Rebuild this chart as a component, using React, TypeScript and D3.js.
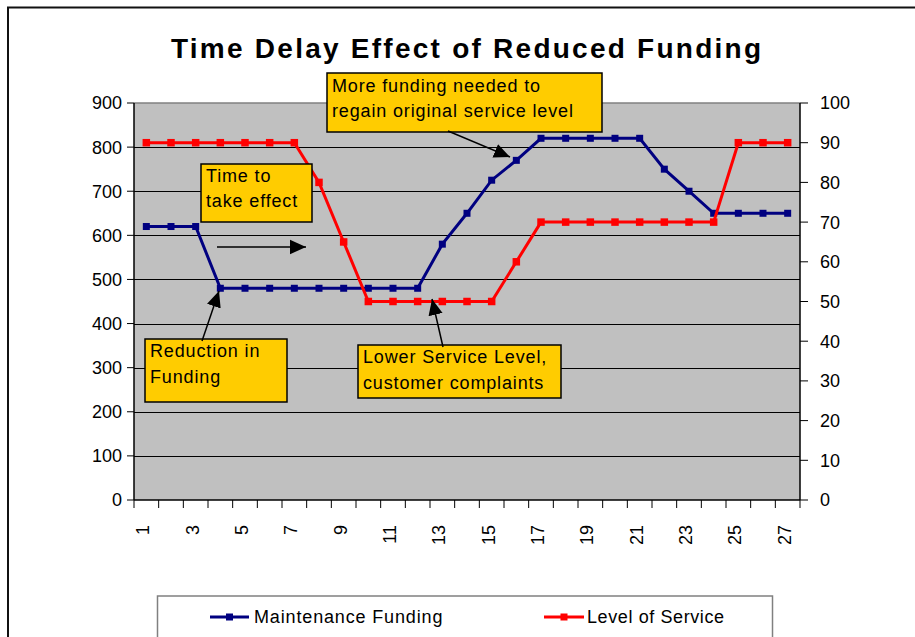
import React from 'react';
import * as d3 from 'd3';

// données
const periods = d3.range(1, 28);
const maintenanceFunding = [
  620, 620, 620, 480, 480, 480, 480, 480, 480, 480, 480, 480, 580, 650,
  725, 770, 820, 820, 820, 820, 820, 750, 700, 650, 650, 650, 650,
];
const levelOfService = [
  90, 90, 90, 90, 90, 90, 90, 80, 65, 50, 50, 50, 50, 50,
  50, 60, 70, 70, 70, 70, 70, 70, 70, 70, 90, 90, 90,
];
const leftTicks = d3.range(0, 901, 100);
const rightTicks = d3.range(0, 101, 10);

const FONT = "Arial, 'Liberation Sans', sans-serif";

const App = () => {
  const width = 915;
  const height = 637;
  const plot = { left: 134, right: 800, top: 103, bottom: 500 };

  const x = d3
    .scalePoint<number>()
    .domain(periods)
    .range([plot.left, plot.right])
    .padding(0.5);
  const step = x.step();
  const yLeft = d3.scaleLinear().domain([0, 900]).range([plot.bottom, plot.top]);
  const yRight = d3.scaleLinear().domain([0, 100]).range([plot.bottom, plot.top]);

  const lineLeft = d3
    .line<number>()
    .x((_, i) => x(periods[i])!)
    .y((d) => yLeft(d));
  const lineRight = d3
    .line<number>()
    .x((_, i) => x(periods[i])!)
    .y((d) => yRight(d));

  const boxes = [
    { x: 327, y: 73, w: 275, h: 59, lines: ['More funding needed to', 'regain original service level'], tx: 332, ty: [92, 117] },
    { x: 201, y: 164, w: 111, h: 58, lines: ['Time to', 'take effect'], tx: 206, ty: [182, 207] },
    { x: 145, y: 339, w: 142, h: 63, lines: ['Reduction in', 'Funding'], tx: 150, ty: [357, 383] },
    { x: 358, y: 345, w: 203, h: 53, lines: ['Lower Service Level,', 'customer complaints'], tx: 363, ty: [363, 389] },
  ];

  const arrows = [
    [448, 131, 510, 157],
    [217, 247, 306, 247],
    [202, 341, 219, 291],
    [443, 347, 432, 299],
  ];

  const boundaries = d3.range(0, 28).map((i) => plot.left + i * step);

  return (
    <svg
      width={width}
      height={height}
      style={{ position: 'absolute', left: 0, top: 0, display: 'block' }}
      fontFamily={FONT}
    >
      <defs>
        <marker id="head" viewBox="0 0 10 10" refX="10" refY="5" markerWidth="16" markerHeight="16" markerUnits="userSpaceOnUse" orient="auto">
          <path d="M0,0.5 L10,5 L0,9.5 Z" fill="#000" />
        </marker>
      </defs>

      <rect x={0} y={0} width={width} height={height} fill="#fff" />
      {/* cadre extérieur */}
      <rect x={8} y={7.5} width={930} height={660} fill="none" stroke="#111" strokeWidth={2} />

      {/* titre */}
      <text x={171} y={58} fontSize={28} fontWeight="bold" textLength={590} lengthAdjust="spacing">
        Time Delay Effect of Reduced Funding
      </text>

      {/* zone de tracé */}
      <rect x={plot.left} y={plot.top} width={plot.right - plot.left} height={plot.bottom - plot.top} fill="#c0c0c0" />
      <line x1={plot.left} x2={plot.right} y1={plot.top} y2={plot.top} stroke="#808080" strokeWidth={1.5} />
      {leftTicks.slice(1, -1).map((t) => (
        <line key={t} x1={plot.left} x2={plot.right} y1={Math.round(yLeft(t)) + 0.5} y2={Math.round(yLeft(t)) + 0.5} stroke="#000" strokeWidth={1} />
      ))}

      {/* axe gauche */}
      <line x1={plot.left} x2={plot.left} y1={plot.top} y2={plot.bottom} stroke="#000" strokeWidth={1.5} />
      {leftTicks.map((t) => (
        <g key={t}>
          <line x1={plot.left - 7} x2={plot.left} y1={yLeft(t)} y2={yLeft(t)} stroke="#000" />
          <text x={122} y={yLeft(t)} dy="0.36em" textAnchor="end" fontSize={18}>
            {t}
          </text>
        </g>
      ))}

      {/* axe droit */}
      <line x1={plot.right} x2={plot.right} y1={plot.top} y2={plot.bottom} stroke="#000" strokeWidth={1.5} />
      {rightTicks.map((t) => (
        <g key={t}>
          <line x1={plot.right} x2={plot.right + 8} y1={yRight(t)} y2={yRight(t)} stroke="#000" />
          <text x={820} y={yRight(t)} dy="0.36em" fontSize={18}>
            {t}
          </text>
        </g>
      ))}

      {/* axe des x */}
      <line x1={plot.left} x2={plot.right} y1={plot.bottom} y2={plot.bottom} stroke="#000" strokeWidth={1.5} />
      {boundaries.map((b, i) => (
        <line key={i} x1={b} x2={b} y1={plot.bottom} y2={plot.bottom + 8} stroke="#000" />
      ))}
      {periods
        .filter((p) => p % 2 === 1)
        .map((p) => (
          <text key={p} transform={`translate(${x(p)! + 3},525) rotate(-90)`} textAnchor="end" fontSize={18}>
            {p}
          </text>
        ))}

      {/* séries */}
      <path d={lineLeft(maintenanceFunding) || ''} fill="none" stroke="#000080" strokeWidth={3} />
      {maintenanceFunding.map((v, i) => (
        <rect key={i} x={x(periods[i])! - 3.5} y={yLeft(v) - 3.5} width={7} height={7} fill="#000080" />
      ))}
      <path d={lineRight(levelOfService) || ''} fill="none" stroke="#ff0000" strokeWidth={3} />
      {levelOfService.map((v, i) => (
        <rect key={i} x={x(periods[i])! - 3.75} y={yRight(v) - 3.75} width={7.5} height={7.5} fill="#ff0000" />
      ))}

      {/* annotations */}
      {boxes.map((b, i) => (
        <g key={i}>
          <rect x={b.x} y={b.y} width={b.w} height={b.h} fill="#ffcc00" stroke="#000" strokeWidth={1.5} />
          {b.lines.map((l, j) => (
            <text key={j} x={b.tx} y={b.ty[j]} fontSize={18} letterSpacing={0.85}>
              {l}
            </text>
          ))}
        </g>
      ))}
      {arrows.map(([x1, y1, x2, y2], i) => (
        <line key={i} x1={x1} y1={y1} x2={x2} y2={y2} stroke="#000" strokeWidth={1.5} markerEnd="url(#head)" />
      ))}

      {/* légende */}
      <rect x={157.5} y={596} width={615} height={60} fill="#fff" stroke="#808080" strokeWidth={1.5} />
      <line x1={210} x2={249} y1={617} y2={617} stroke="#000080" strokeWidth={3} />
      <rect x={226} y={613.5} width={7} height={7} fill="#000080" />
      <text x={254} y={623} fontSize={18} letterSpacing={0.85}>
        Maintenance Funding
      </text>
      <line x1={544} x2={584} y1={617} y2={617} stroke="#ff0000" strokeWidth={3} />
      <rect x={560.5} y={613.5} width={7} height={7} fill="#ff0000" />
      <text x={587} y={623} fontSize={18} letterSpacing={0.6}>
        Level of Service
      </text>
    </svg>
  );
};

export default App;
